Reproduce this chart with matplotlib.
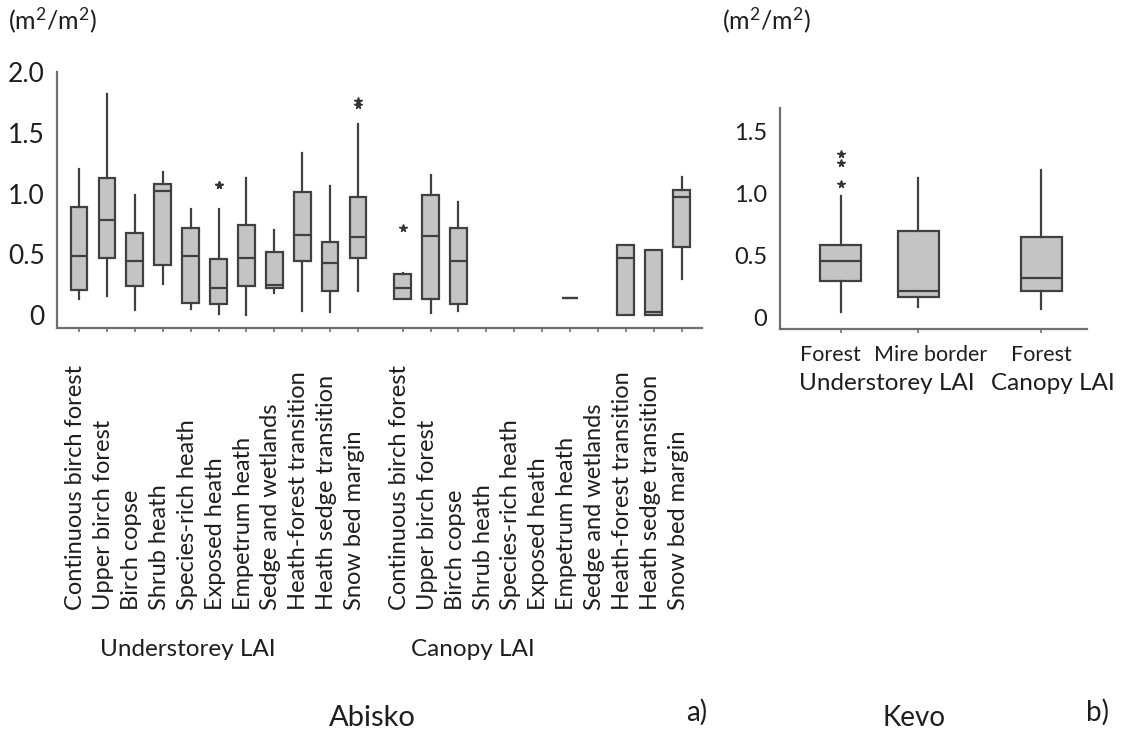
import matplotlib
matplotlib.use("Agg")
import matplotlib.pyplot as plt
import matplotlib.transforms as mtransforms

plt.rcParams['font.family'] = ['Lato', 'DejaVu Sans']
plt.rcParams['mathtext.fontset'] = 'custom'
plt.rcParams['mathtext.rm'] = 'Lato'
plt.rcParams['mathtext.it'] = 'Lato'

# ---------------- data ----------------
habitats = ["Continuous birch forest", "Upper birch forest", "Birch copse",
            "Shrub heath", "Species-rich heath", "Exposed heath",
            "Empetrum heath", "Sedge and wetlands", "Heath-forest transition",
            "Heath sedge transition", "Snow bed margin"]

# Abisko understorey LAI
us_lo  = [0.13, 0.16, 0.04, 0.26, 0.05, 0.01, 0.005, 0.18, 0.035, 0.03, 0.20]
us_q1  = [0.21, 0.47, 0.24, 0.41, 0.10, 0.09, 0.24, 0.22, 0.45, 0.20, 0.47]
us_med = [0.49, 0.78, 0.45, 1.02, 0.49, 0.22, 0.47, 0.25, 0.66, 0.43, 0.64]
us_q3  = [0.89, 1.13, 0.68, 1.08, 0.72, 0.46, 0.74, 0.52, 1.01, 0.60, 0.97]
us_hi  = [1.20, 1.82, 0.99, 1.18, 0.87, 0.87, 1.13, 0.70, 1.33, 1.06, 1.57]
us_out = [[], [], [], [], [], [1.07, 1.07], [], [], [], [], [1.73, 1.76]]

# Abisko canopy LAI (None = no data)
ca_lo  = [0.13, 0.02, 0.035, None, None, None, 0.145, None, 0.005, 0.005, 0.30]
ca_q1  = [0.13, 0.13, 0.09, None, None, None, 0.145, None, 0.005, 0.005, 0.56]
ca_med = [0.22, 0.65, 0.45, None, None, None, 0.145, None, 0.47, 0.03, 0.97]
ca_q3  = [0.34, 0.99, 0.72, None, None, None, 0.145, None, 0.58, 0.54, 1.03]
ca_hi  = [0.35, 1.15, 0.93, None, None, None, 0.145, None, 0.58, 0.54, 1.14]
ca_out = [[0.72], [], [], [], [], [], [], [], [], [], []]

# Kevo
kevo_labels = ["Forest", "Mire border", "Forest"]
kv_lo  = [0.05, 0.09, 0.07]
kv_q1  = [0.30, 0.17, 0.22]
kv_med = [0.46, 0.22, 0.32]
kv_q3  = [0.59, 0.70, 0.65]
kv_hi  = [0.98, 1.13, 1.19]
kv_out = [[1.08, 1.25, 1.32], [], []]

left_yticks = [0, 0.5, 1.0, 1.5, 2.0]
left_yticklabels = ["0", "0.5", "1.0", "1.5", "2.0"]
right_yticks = [0, 0.5, 1.0, 1.5]
right_yticklabels = ["0", "0.5", "1.0", "1.5"]

# ---------------- style ----------------
BOX_FC = "#c4c4c4"
LINE_C = "#404040"
AX_C = "#707070"
TXT_C = "#1e1e1e"
W, H = 1121, 733

fig = plt.figure(figsize=(W / 100, H / 100), dpi=100)


def make_stats(lo, q1, med, q3, hi, out):
    st = []
    for a, b, c, d, e, f in zip(lo, q1, med, q3, hi, out):
        if c is None:
            st.append(None)
        else:
            st.append(dict(whislo=a, q1=b, med=c, q3=d, whishi=e, fliers=f))
    return st


def draw(ax, stats, positions, width):
    s = [x for x in stats if x is not None]
    p = [q for x, q in zip(stats, positions) if x is not None]
    ax.bxp(s, positions=p, widths=width, patch_artist=True, showcaps=False,
           boxprops=dict(facecolor=BOX_FC, edgecolor=LINE_C, linewidth=1.6),
           medianprops=dict(color=LINE_C, linewidth=1.6),
           whiskerprops=dict(color=LINE_C, linewidth=1.6),
           flierprops=dict(marker='*', markersize=5.5, markerfacecolor='#333333',
                           markeredgecolor='#333333', linestyle='none'))


def style_axes(ax):
    for sp in ["top", "right"]:
        ax.spines[sp].set_visible(False)
    for sp in ["left", "bottom"]:
        ax.spines[sp].set_color(AX_C)
        ax.spines[sp].set_linewidth(1.6)
    ax.tick_params(axis='x', length=3, width=1.2, color=AX_C, labelbottom=False)
    ax.tick_params(axis='y', length=0, pad=9, colors=TXT_C)


# ---- Left panel: Abisko ----
axL = fig.add_axes([57 / W, 1 - 328 / H, 645 / W, 256 / H])
n = len(habitats)
pos_us = list(range(n))
pos_ca = [11.6 + i for i in range(n)]
draw(axL, make_stats(us_lo, us_q1, us_med, us_q3, us_hi, us_out), pos_us, 0.6)
draw(axL, make_stats(ca_lo, ca_q1, ca_med, ca_q3, ca_hi, ca_out), pos_ca, 0.6)
axL.set_xlim(-0.79, 22.33)
axL.set_ylim(-0.105, 2.0)
axL.set_xticks(pos_us + pos_ca)
axL.set_yticks(left_yticks)
axL.set_yticklabels(left_yticklabels, fontsize=19)
style_axes(axL)

trL = mtransforms.blended_transform_factory(axL.transData, fig.transFigure)
for x, lab in zip(pos_us + pos_ca, habitats + habitats):
    axL.text(x - 0.12, 1 - 610 / H, lab, transform=trL, rotation=90,
             ha='center', va='bottom', fontsize=17, color=TXT_C)

fig.text(188 / W, 1 - 650 / H, "Understorey LAI", ha='center', va='center',
         fontsize=17.5, color=TXT_C)
fig.text(473 / W, 1 - 650 / H, "Canopy LAI", ha='center', va='center',
         fontsize=17.5, color=TXT_C)

# ---- Right panel: Kevo ----
axR = fig.add_axes([780 / W, 1 - 329 / H, 307 / W, 221 / H])
pos_kv = [0, 1, 2.6]
draw(axR, make_stats(kv_lo, kv_q1, kv_med, kv_q3, kv_hi, kv_out), pos_kv, 0.53)
axR.set_xlim(-0.79, 3.19)
axR.set_ylim(-0.09, 1.69)
axR.set_xticks(pos_kv)
axR.set_yticks(right_yticks)
axR.set_yticklabels(right_yticklabels, fontsize=17)
style_axes(axR)

trR = mtransforms.blended_transform_factory(axR.transData, fig.transFigure)
for x, dx, lab in zip(pos_kv, [-0.14, 0.16, 0.0], kevo_labels):
    axR.text(x + dx, 1 - 355 / H, lab, transform=trR, ha='center', va='center',
             fontsize=15.5, color=TXT_C)
fig.text(887 / W, 1 - 383 / H, "Understorey LAI", ha='center', va='center',
         fontsize=17.5, color=TXT_C)
fig.text(1053 / W, 1 - 383 / H, "Canopy LAI", ha='center', va='center',
         fontsize=17.5, color=TXT_C)

# ---- units and panel captions ----
unit = r"(m$^{2}$/m$^{2}$)"
fig.text(8 / W, 1 - 20 / H, unit, ha='left', va='center', fontsize=18, color=TXT_C)
fig.text(722 / W, 1 - 20 / H, unit, ha='left', va='center', fontsize=18, color=TXT_C)
fig.text(372 / W, 1 - 718 / H, "Abisko", ha='center', va='center', fontsize=21, color=TXT_C)
fig.text(697 / W, 1 - 712 / H, "a)", ha='center', va='center', fontsize=20, color=TXT_C)
fig.text(914 / W, 1 - 718 / H, "Kevo", ha='center', va='center', fontsize=20, color=TXT_C)
fig.text(1097 / W, 1 - 712 / H, "b)", ha='center', va='center', fontsize=20, color=TXT_C)

fig.savefig("out.png", dpi=100)
